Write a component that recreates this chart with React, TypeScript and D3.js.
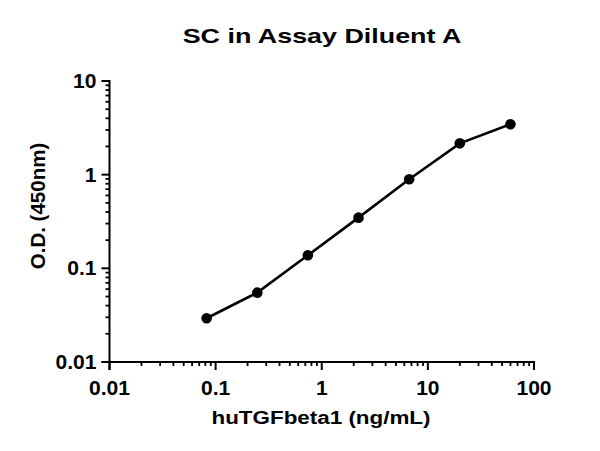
import React from "react";
import * as d3 from "d3";

const concentrations = [0.0823, 0.247, 0.74, 2.22, 6.67, 20, 60];
const odValues = [0.0293, 0.055, 0.1377, 0.3475, 0.893, 2.16, 3.45];
const xTickValues = [0.01, 0.1, 1, 10, 100];
const xTickLabels = ["0.01", "0.1", "1", "10", "100"];
const yTickValues = [0.01, 0.1, 1, 10];
const yTickLabels = ["0.01", "0.1", "1", "10"];
const title = "SC in Assay Diluent A";
const xTitle = "huTGFbeta1 (ng/mL)";
const yTitle = "O.D. (450nm)";

const W = 600;
const H = 451;
const left = 109.5;
const right = 534;
const top = 81;
const bottom = 362;

const font = "'Liberation Sans', Arial, sans-serif";

function Label(props: { x: number; y: number; size: number; sx: number; anchor: string; children: string; rotate?: number }) {
  const { x, y, size, sx, anchor, children, rotate } = props;
  return (
    <text
      transform={`translate(${x},${y}) rotate(${rotate || 0}) scale(${sx},1)`}
      textAnchor={anchor as any}
      fontFamily={font}
      fontWeight="bold"
      fontSize={size}
      fill="#000"
    >
      {children}
    </text>
  );
}

export default function App() {
  const x = d3.scaleLog().domain([0.01, 100]).range([left, right]);
  const y = d3.scaleLog().domain([0.01, 10]).range([bottom, top]);

  const minorX: number[] = [];
  for (let e = -2; e < 2; e++) for (let k = 2; k <= 9; k++) minorX.push(k * Math.pow(10, e));
  const minorY: number[] = [];
  for (let e = -2; e < 1; e++) for (let k = 2; k <= 9; k++) minorY.push(k * Math.pow(10, e));

  const line = d3
    .line<number>()
    .x((_, i) => x(concentrations[i]))
    .y((d) => y(d));

  const axisX = left;
  const axisY = bottom;

  return (
    <svg width={W} height={H} style={{ position: "absolute", left: 0, top: 0, background: "#fff" }}>
      <rect width={W} height={H} fill="#fff" />
      <Label x={322} y={42.5} size={21} sx={1.28} anchor="middle">{title}</Label>
      {/* Y axis */}
      <line x1={axisX} x2={axisX} y1={top - 1} y2={bottom + 8} stroke="#000" strokeWidth={2} />
      {minorY.map((v) => (
        <line key={"my" + v} x1={axisX - 4} x2={axisX} y1={y(v)} y2={y(v)} stroke="#000" strokeWidth={1.8} />
      ))}
      {yTickValues.map((v, i) => (
        <g key={"y" + v}>
          <line x1={axisX - 8} x2={axisX} y1={y(v)} y2={y(v)} stroke="#000" strokeWidth={2} />
          <Label x={axisX - 13} y={y(v) + 7} size={19.5} sx={1.08} anchor="end">{yTickLabels[i]}</Label>
        </g>
      ))}
      {/* X axis */}
      <line x1={axisX - 8} x2={right + 1} y1={axisY} y2={axisY} stroke="#000" strokeWidth={2} />
      {minorX.map((v) => (
        <line key={"mx" + v} x1={x(v)} x2={x(v)} y1={axisY} y2={axisY + 4} stroke="#000" strokeWidth={1.8} />
      ))}
      {xTickValues.map((v, i) => (
        <g key={"x" + v}>
          <line x1={x(v)} x2={x(v)} y1={axisY} y2={axisY + 8} stroke="#000" strokeWidth={2} />
          <Label x={x(v)} y={395} size={19.5} sx={1.08} anchor="middle">{xTickLabels[i]}</Label>
        </g>
      ))}
      <Label x={321} y={424} size={19} sx={1.18} anchor="middle">{xTitle}</Label>
      <Label x={45} y={206} size={20.5} sx={1} anchor="middle" rotate={-90}>{yTitle}</Label>
      {/* data */}
      <path d={line(odValues) || ""} fill="none" stroke="#000" strokeWidth={2.6} />
      {odValues.map((v, i) => (
        <circle key={"p" + i} cx={x(concentrations[i])} cy={y(v)} r={5.3} fill="#000" />
      ))}
    </svg>
  );
}
